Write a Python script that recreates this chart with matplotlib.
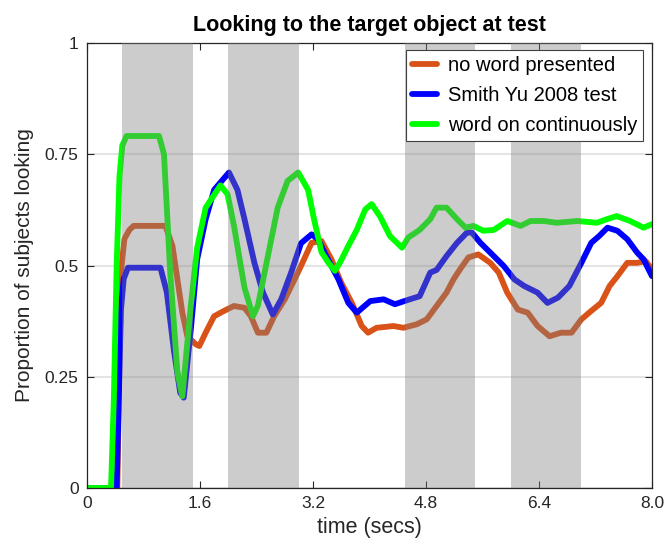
import matplotlib
matplotlib.use("Agg")
import matplotlib.pyplot as plt

plt.rcParams['font.family'] = ['Liberation Sans', 'DejaVu Sans']

title = "Looking to the target object at test"
xlabel = "time (secs)"
ylabel = "Proportion of subjects looking"
xticks = [0, 1.6, 3.2, 4.8, 6.4, 8.0]
xticklabels = ["0", "1.6", "3.2", "4.8", "6.4", "8.0"]
yticks = [0, 0.25, 0.5, 0.75, 1]
yticklabels = ["0", "0.25", "0.5", "0.75", "1"]
bands = [(0.5, 1.5), (2.0, 3.0), (4.5, 5.5), (6.0, 7.0)]
labels = ["no word presented", "Smith Yu 2008 test", "word on continuously"]
colors = ["#D95319", "#0000FF", "#00FF00"]

t_orange = [0, 0.2, 0.43, 0.46, 0.49, 0.53, 0.6, 0.66, 0.9, 1.11, 1.21, 1.28, 1.35, 1.42, 1.54, 1.59,
            1.68, 1.80, 1.94, 2.08, 2.23, 2.32, 2.42, 2.54, 2.65, 2.80, 2.94, 3.03, 3.18, 3.32,
            3.46, 3.60, 3.75, 3.89, 3.98, 4.1, 4.34, 4.48, 4.67, 4.81, 4.95, 5.09, 5.19, 5.28,
            5.40, 5.54, 5.71, 5.83, 5.95, 6.10, 6.24, 6.38, 6.55, 6.71, 6.86, 7.0, 7.14, 7.28,
            7.40, 7.51, 7.65, 7.79, 7.91, 8.0]
v_orange = [0, 0, 0, 0.3, 0.5, 0.56, 0.58, 0.589, 0.589, 0.589, 0.544, 0.469, 0.394, 0.341, 0.323, 0.319,
            0.349, 0.386, 0.398, 0.409, 0.405, 0.386, 0.349, 0.349, 0.386, 0.424, 0.469, 0.499, 0.551, 0.555,
            0.514, 0.461, 0.416, 0.364, 0.349, 0.36, 0.364, 0.36, 0.368, 0.379, 0.409, 0.439, 0.469, 0.491,
            0.518, 0.525, 0.506, 0.484, 0.439, 0.401, 0.394, 0.364, 0.341, 0.349, 0.349, 0.379, 0.398, 0.416,
            0.454, 0.476, 0.506, 0.506, 0.51, 0.491]

t_blue = [0, 0.2, 0.42, 0.45, 0.48, 0.52, 0.58, 0.8, 1.04, 1.13, 1.23, 1.32, 1.37, 1.47, 1.56, 1.68,
          1.80, 2.01, 2.13, 2.23, 2.37, 2.49, 2.63, 2.75, 2.89, 3.03, 3.18, 3.27, 3.41, 3.56, 3.70,
          3.82, 4.01, 4.2, 4.36, 4.57, 4.71, 4.86, 4.95, 5.09, 5.24, 5.38, 5.45, 5.57, 5.71, 5.9,
          6.05, 6.19, 6.38, 6.52, 6.67, 6.83, 7.0, 7.14, 7.25, 7.37, 7.51, 7.65, 7.79, 7.88, 8.0]
v_blue = [0, 0, 0, 0.2, 0.4, 0.47, 0.495, 0.495, 0.495, 0.44, 0.31, 0.214, 0.203, 0.356, 0.514, 0.604,
          0.67, 0.709, 0.67, 0.604, 0.506, 0.44, 0.39, 0.424, 0.484, 0.55, 0.57, 0.559, 0.514, 0.469, 0.416,
          0.394, 0.42, 0.424, 0.413, 0.424, 0.431, 0.484, 0.49, 0.521, 0.551, 0.574, 0.574, 0.551, 0.529, 0.499,
          0.469, 0.454, 0.439, 0.416, 0.428, 0.454, 0.506, 0.551, 0.566, 0.585, 0.578, 0.559, 0.529, 0.514, 0.476]

t_green = [0, 0.2, 0.34, 0.38, 0.42, 0.46, 0.5, 0.56, 0.8, 1.02, 1.09, 1.18, 1.28, 1.35, 1.47, 1.56,
           1.68, 1.89, 1.99, 2.08, 2.23, 2.35, 2.42, 2.56, 2.70, 2.84, 2.99, 3.13, 3.22, 3.32, 3.42,
           3.51, 3.58, 3.70, 3.82, 3.94, 4.03, 4.15, 4.29, 4.46, 4.55, 4.71, 4.86, 4.95, 5.09, 5.24,
           5.36, 5.47, 5.61, 5.76, 5.95, 6.14, 6.28, 6.47, 6.65, 6.94, 7.22, 7.36, 7.50, 7.69, 7.88, 8.0]
v_green = [0, 0, 0, 0.2, 0.5, 0.7, 0.77, 0.791, 0.791, 0.791, 0.75, 0.48, 0.26, 0.206, 0.41, 0.54,
           0.63, 0.68, 0.66, 0.59, 0.45, 0.386, 0.41, 0.52, 0.63, 0.69, 0.709, 0.67, 0.60, 0.53, 0.506,
           0.488, 0.506, 0.544, 0.58, 0.626, 0.638, 0.61, 0.566, 0.54, 0.563, 0.58, 0.604, 0.63, 0.63, 0.604,
           0.585, 0.589, 0.578, 0.58, 0.6, 0.589, 0.60, 0.6, 0.596, 0.60, 0.596, 0.604, 0.611, 0.60, 0.585, 0.593]

fig = plt.figure(figsize=(6.68, 5.48), dpi=100)
ax = fig.add_axes([87/668, 60/548, 565/668, 445/548])

series = [(t_orange, v_orange), (t_blue, v_blue), (t_green, v_green)]
for (t, v), c, lab in zip(series, colors, labels):
    ax.plot(t, v, color=c, lw=4.2, label=lab, solid_joinstyle='round', solid_capstyle='round', zorder=2)

for a, b in bands:
    ax.axvspan(a, b, color=(0.5, 0.5, 0.5), alpha=0.4, lw=0, zorder=3)

ax.set_xlim(0, 8)
ax.set_ylim(0, 1)
ax.set_xticks(xticks)
ax.set_xticklabels(xticklabels)
ax.set_yticks(yticks)
ax.set_yticklabels(yticklabels)
ax.yaxis.grid(True, color=(0.15, 0.15, 0.15), alpha=0.12, lw=1.5, zorder=1)
ax.set_axisbelow(True)
ax.tick_params(direction='in', top=True, right=True, labelsize=12.5, colors='#262626', length=5, pad=6)
for s in ax.spines.values():
    s.set_color('#262626')
    s.set_linewidth(0.9)

ax.set_title(title, fontsize=15.5, fontweight='bold', pad=9)
ax.set_xlabel(xlabel, fontsize=15.5, color='#262626', labelpad=4)
ax.set_ylabel(ylabel, fontsize=15, color='#262626', labelpad=8)

leg = ax.legend(loc='upper right', fontsize=14.5, fancybox=False, framealpha=1,
                edgecolor='#404040', borderpad=0.3, handlelength=1.25, handletextpad=0.5,
                labelspacing=0.55, borderaxespad=0, bbox_to_anchor=(0.984, 0.984))
leg.get_frame().set_linewidth(0.8)
leg.set_zorder(5)

fig.savefig("out.png", dpi=100)
